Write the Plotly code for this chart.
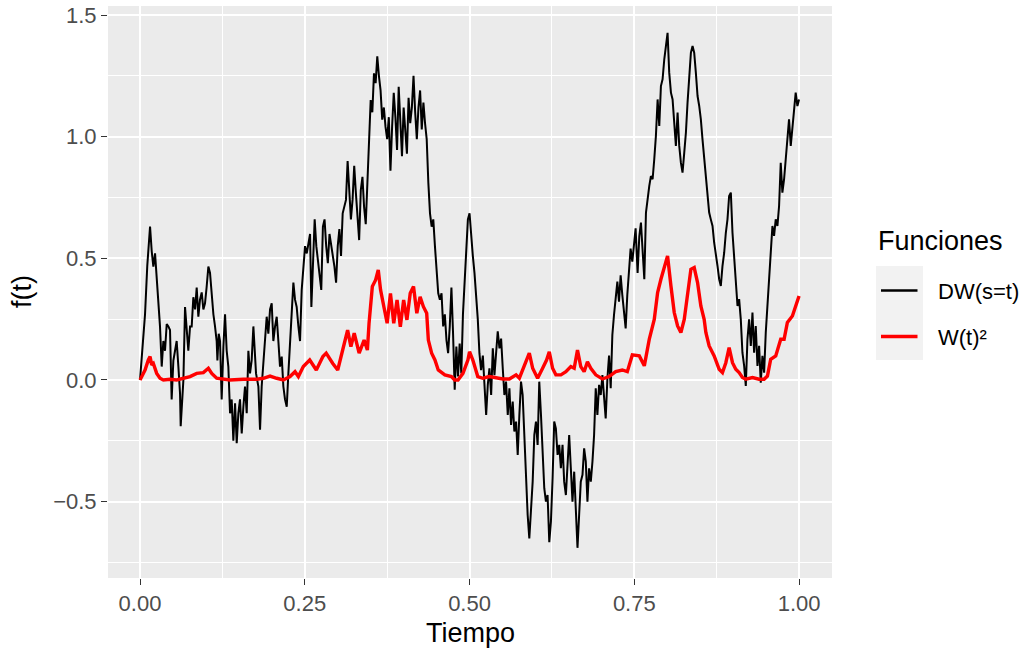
import plotly.graph_objects as go

# ---- DW(s=t) (black path) in four pieces ----
dw_t_a = [0, .004, .0076, .011, .0137, .0152, .0177, .0202, .0228, .0253, .0278, .0303, .0329, .0354, .0379, .0405,
          .043, .0455, .048, .0506, .0531, .0556, .0582, .0607, .0617, .0637, .0658, .0683, .0708, .0733, .0759, .0784,
          .0809, .0835, .086, .0885, .091, .0936, .0961, .0986, .101, .1037, .1062, .1088, .1113, .1138, .1163, .1174,
          .1194, .1214, .1239, .1265, .129, .1315, .134, .1366, .1391, .1416, .1442, .1467, .1492, .1517, .1543, .1568,
          .1593, .1619, .1644, .1669, .1694, .172, .1745, .176, .1796, .1821, .1846, .1872, .1897, .1922, .1947, .1973,
          .1998, .2023, .2049, .2074, .2099, .2124, .215, .2175, .22, .2226, .2251, .2276, .2301, .2327, .2352, .2377,
          .2403, .2428, .2453, .2478, .2504, .253, .258]
dw_v_a = [0, .16, .27, .47, .60, .63, .53, .466, .52, .41, .33, .22, .055, .16, .12, .23,
          .22, .205, -.08, .08, .12, .16, .055, -.055, -.19, -.08, 0, .30, .19, .12, .22, .22,
          .34, .29, .38, .26, .33, .36, .29, .315, .38, .466, .44, .33, .27, .22, .16, .08,
          .19, .16, -.08, .137, .27, .12, .055, -.137, -.08, -.25, -.096, -.26, -.137, -.08, -.22, -.11,
          -.027, -.137, .12, .027, .08, .22, .12, .027, -.027, -.205, -.027, .08, .19, .26, .19, .29,
          .315, .16, .22, .26, .16, .055, .096, -.027, -.08, -.11, .027, .137, .26, .40, .33, .30,
          .22, .16, .37, .466, .55, .52, .60]

dw_t_b = [.26, .2625, .265, .2675, .27, .2725, .275, .2775, .28, .2825, .285, .2875, .29, .2925, .295, .2975,
          .30, .3025, .305, .3075, .31, .3125, .315, .3175, .32, .3225, .325, .3275, .33, .3325, .335, .3375,
          .34, .3425, .345, .3475, .35, .3525, .355, .3575, .36, .3625, .365, .3675, .37, .3725, .375, .3775,
          .38, .3825, .385, .3875, .39, .3925, .395, .3975, .40, .4025, .405, .4075, .41, .4125, .415, .4175,
          .42, .4225, .425, .4275, .43, .4325, .435, .4375, .44, .4425, .445, .4475, .45, .4525, .455, .4575,
          .46, .4625, .465, .4675, .47, .4725, .475, .4775, .48, .4825, .485, .4875, .49, .4925, .495, .4975,
          .50, .5025, .505, .5075, .51, .5125, .515, .5175]
dw_v_b = [.30, .466, .66, .55, .49, .44, .37, .63, .66, .55, .48, .60, .56, .52, .466, .40,
          .55, .62, .51, .685, .71, .74, .90, .78, .66, .74, .88, .77, .685, .575, .78, .835,
          .71, .64, .81, .96, 1.15, 1.10, 1.26, 1.22, 1.33, 1.25, 1.19, 1.07, 1.12, 1.04, .99, 1.08,
          .86, 1.04, 1.18, 1.08, .945, 1.205, 1.04, .92, 1.12, 1.01, .93, 1.16, 1.055, 1.12, 1.25, 1.10,
          .99, 1.12, 1.19, 1.03, 1.14, 1.055, .99, .81, .685, .63, .66, .55, .44, .356, .33, .356,
          .22, .27, .164, .11, .22, .38, .19, -.04, .137, .014, .15, .027, .27, .41, .575, .66,
          .685, .575, .51, .44, .356, .25, .11, .04]

dw_t_c = [.5202, .5227, .5252, .5277, .5302, .5328, .5353, .5378, .5403, .5428, .5454, .5479, .5504, .5529, .5554,
          .558, .5605, .563, .5655, .568, .5706, .5731, .5756, .5781, .5806, .5832, .5857, .5882, .5907, .5932,
          .5958, .5983, .6008, .6033, .6058, .6084, .6109, .6134, .6159, .6184, .621, .6235, .626, .6285, .631,
          .6336, .6361, .6386, .6411, .6436, .6462, .6487, .6512, .6537, .6562, .6588, .6613, .6638, .6663, .6688,
          .6714, .6739, .6764, .6789, .6814, .684, .6865, .689, .6915, .694, .6966, .6991, .7016, .7041, .7066,
          .7092, .7117, .7142, .7167, .7192, .7218, .7243, .7268, .7293, .7318, .7344, .7369, .7394, .7419, .7444,
          .747, .7495, .752]
dw_v_c = [.10, -.034, -.144, -.02, .048, -.062, .13, .02, .10, .20, .13, .17, .048, -.062, -.007,
          -.144, -.034, -.185, -.089, -.212, -.171, -.308, -.144, -.007, -.062, -.226, -.418, -.555, -.651, -.555,
          -.418, -.226, -.171, -.267, -.007, -.144, -.308, -.445, -.50, -.473, -.667, -.582, -.404, -.171, -.199,
          -.308, -.267, -.363, -.267, -.418, -.473, -.336, -.226, -.363, -.50, -.377, -.555, -.69, -.555, -.418,
          -.39, -.281, -.336, -.50, -.363, -.418, -.336, -.226, -.034, -.144, -.02, -.062, .02, -.089, -.158,
          .007, .10, -.034, .185, .267, .35, .404, .322, .43, .35, .267, .212, .35, .46, .54,
          .486, .568, .623]

dw_t_d = [.755, .7576, .7601, .7626, .7652, .7677, .7702, .7727, .7752, .7778, .7803, .7828, .7854, .7879, .7904,
          .7929, .7955, .798, .8005, .803, .8056, .8081, .8106, .8131, .8157, .8182, .8207, .8232, .8258, .8283,
          .8308, .8333, .8359, .8384, .8409, .8434, .846, .8485, .851, .8535, .856, .8586, .8611, .8636, .8661,
          .8687, .8712, .8737, .8763, .8788, .8813, .8838, .8864, .8889, .8914, .8939, .8965, .899, .9015, .904,
          .9066, .9091, .9116, .9141, .9167, .9192, .9217, .9242, .9268, .9293, .9318, .9343, .9369, .9394, .9419,
          .9444, .947, .9495, .952, .9545, .957, .9596, .9621, .9646, .9672, .9697, .9722, .9747, .9773, .9798,
          .9823, .9848, .9874, .9899, .9924, .9949, .9975, 1.0]
dw_v_d = [.44, .59, .647, .523, .414, .688, .756, .797, .838, .825, .907, 1.003, 1.153, 1.044, 1.208,
          1.236, 1.318, 1.373, 1.427, 1.263, 1.181, 1.153, 1.071, .962, 1.099, .962, .893, .852, .934, 1.016,
          1.14, 1.249, 1.345, 1.373, 1.345, 1.263, 1.167, 1.126, 1.071, .989, .907, .838, .77, .688, .66,
          .633, .564, .523, .468, .414, .386, .468, .523, .605, .66, .756, .77, .605, .496, .386,
          .304, .332, .249, .112, .058, -.025, .167, .249, .14, .277, .112, .222, .058, .14, -.011,
          .099, .03, .195, .304, .441, .551, .633, .592, .66, .633, .715, .893, .77, .825, .907,
          1.016, 1.071, .962, 1.044, 1.099, 1.181, 1.126, 1.153]

# ---- W(t)^2 (red path) ----
w2_t = [0, .0076, .0126, .0152, .0177, .0202, .0253, .0303, .0354, .0455, .0556, .0658, .0759, .086, .0961,
        .1037, .1088, .1163, .1265, .1366, .1568, .177, .1872, .1973, .2074, .2175, .2276, .2352, .2403, .2478,
        .2575, .2675, .2775, .2825, .2925, .30, .3075, .315, .32, .325, .3325, .34, .345, .3475, .3525,
        .3575, .3615, .365, .37, .375, .38, .385, .39, .395, .40, .405, .41, .415, .42, .425,
        .43, .435, .4375, .4425, .4475, .4525, .4625, .4725, .4775, .4825, .49, .4975, .50, .505, .5125,
        .5202, .5302, .5403, .5504, .5605, .5706, .5756, .5832, .5907, .5958, .6033, .6109, .6169, .621, .626,
        .631, .6386, .6462, .6537, .6588, .6638, .6688, .6739, .6789, .684, .6915, .7016, .7117, .7218, .7318,
        .7394, .747, .7576, .7652, .7727, .7803, .7854, .7904, .7955, .8005, .8056, .8106, .8157, .8207, .8258,
        .8308, .8359, .8409, .846, .851, .856, .8586, .8636, .8712, .8788, .8838, .8889, .8939, .899, .904,
        .9091, .9141, .9192, .9293, .9394, .947, .952, .957, .9646, .9722, .9773, .9823, .9899, 1.0]
w2_v = [0, .041, .082, .096, .062, .068, .027, .007, 0, .003, 0, .007, .014, .027, .03,
        .048, .027, .007, .003, 0, .003, .003, .007, .016, .007, 0, .014, .034, .014, .055,
        .082, .041, .096, .11, .068, .041, .123, .205, .137, .192, .11, .164, .123, .233, .384,
        .411, .452, .37, .301, .233, .356, .233, .329, .219, .329, .247, .356, .384, .274, .342,
        .301, .274, .164, .11, .082, .041, .021, .014, 0, 0, .027, .082, .116, .082, .014,
        .007, .014, .01, .004, .004, .021, .007, .062, .11, .048, .007, .048, .082, .116, .048,
        .021, .021, .034, .055, .048, .123, .055, .034, .075, .048, .021, .004, .014, .034, .041,
        .034, .103, .099, .058, .167, .249, .359, .414, .468, .51, .386, .277, .222, .195, .249,
        .359, .455, .462, .40, .304, .249, .195, .14, .099, .044, .03, .071, .133, .071, .044,
        .03, .01, .003, .01, .003, .003, .016, .085, .099, .167, .167, .236, .263, .345]

x_ticks = [0, 0.25, 0.5, 0.75, 1.0]
x_labels = ["0.00", "0.25", "0.50", "0.75", "1.00"]
y_ticks = [-0.5, 0.0, 0.5, 1.0, 1.5]
y_labels = ["\u22120.5", "0.0", "0.5", "1.0", "1.5"]
series_names = ["DW(s=t)", "W(t)\u00b2"]
series_colors = ["black", "#FF0000"]
legend_title = "Funciones"

dw_t = dw_t_a + dw_t_b + dw_t_c + dw_t_d
dw_v = dw_v_a + dw_v_b + dw_v_c + dw_v_d

FONT = "Liberation Sans, Arial, Helvetica, sans-serif"
W, H = 1027, 651
ML, MR, MT, MB = 108, 195, 6, 73
PW, PH = W - ML - MR, H - MT - MB


def px(xp):
    return (xp - ML) / PW


def py(yp):
    return (H - MB - yp) / PH


fig = go.Figure()
fig.add_trace(go.Scatter(x=dw_t, y=dw_v, mode="lines", name=series_names[0],
                         line=dict(color=series_colors[0], width=2.0), showlegend=False))
fig.add_trace(go.Scatter(x=w2_t, y=w2_v, mode="lines", name=series_names[1],
                         line=dict(color=series_colors[1], width=3.4), showlegend=False))

# ggplot-style legend on the right
fig.add_shape(type="rect", xref="paper", yref="paper",
              x0=px(876), x1=px(923), y0=py(360), y1=py(266),
              fillcolor="#F2F2F2", line=dict(width=0), layer="below")
key_y = [290.5, 336.5]
key_w = [2.6, 3.6]
annotations = [
    dict(text=legend_title, x=px(876), y=py(241), xref="paper", yref="paper",
         xanchor="left", yanchor="middle", showarrow=False, font=dict(size=27, color="black")),
    dict(text="Tiempo", x=0.5, y=py(633), xref="paper", yref="paper",
         xanchor="center", yanchor="middle", showarrow=False, font=dict(size=27, color="black")),
    dict(text="f(t)", x=px(22), y=0.5, xref="paper", yref="paper", textangle=-90,
         xanchor="center", yanchor="middle", showarrow=False, font=dict(size=27, color="black")),
]
for name, col, ky, kw in zip(series_names, series_colors, key_y, key_w):
    fig.add_shape(type="line", xref="paper", yref="paper",
                  x0=px(881), x1=px(917.5), y0=py(ky), y1=py(ky),
                  line=dict(color=col, width=kw))
    annotations.append(dict(text=name, x=px(936), y=py(ky + 1), xref="paper", yref="paper",
                            xanchor="left", yanchor="middle", showarrow=False,
                            font=dict(size=22, color="black")))

fig.update_layout(
    width=W, height=H,
    margin=dict(l=ML, r=MR, t=MT, b=MB, autoexpand=False),
    paper_bgcolor="white", plot_bgcolor="#EBEBEB",
    font=dict(family=FONT, color="black"),
    showlegend=False,
    annotations=annotations,
    xaxis=dict(range=[-0.0486, 1.0500], tickvals=x_ticks, ticktext=x_labels, automargin=False,
               showgrid=True, gridcolor="white", gridwidth=1.6, zeroline=False, showline=False,
               ticks="outside", ticklen=6, tickwidth=1.3, tickcolor="#333333",
               tickfont=dict(size=22, color="#4D4D4D"),
               minor=dict(tickvals=[0.125, 0.375, 0.625, 0.875], showgrid=True,
                          gridcolor="white", gridwidth=0.8, ticks="")),
    yaxis=dict(range=[-0.814, 1.537], tickvals=y_ticks, ticktext=y_labels, automargin=False,
               showgrid=True, gridcolor="white", gridwidth=1.6, zeroline=False, showline=False,
               ticks="outside", ticklen=6, tickwidth=1.3, tickcolor="#333333",
               tickfont=dict(size=22, color="#4D4D4D"),
               minor=dict(tickvals=[-0.75, -0.25, 0.25, 0.75, 1.25], showgrid=True,
                          gridcolor="white", gridwidth=0.8, ticks="")),
)

fig.write_html("out.html", config={"displayModeBar": False},
               post_script="document.body.style.margin='0';")
